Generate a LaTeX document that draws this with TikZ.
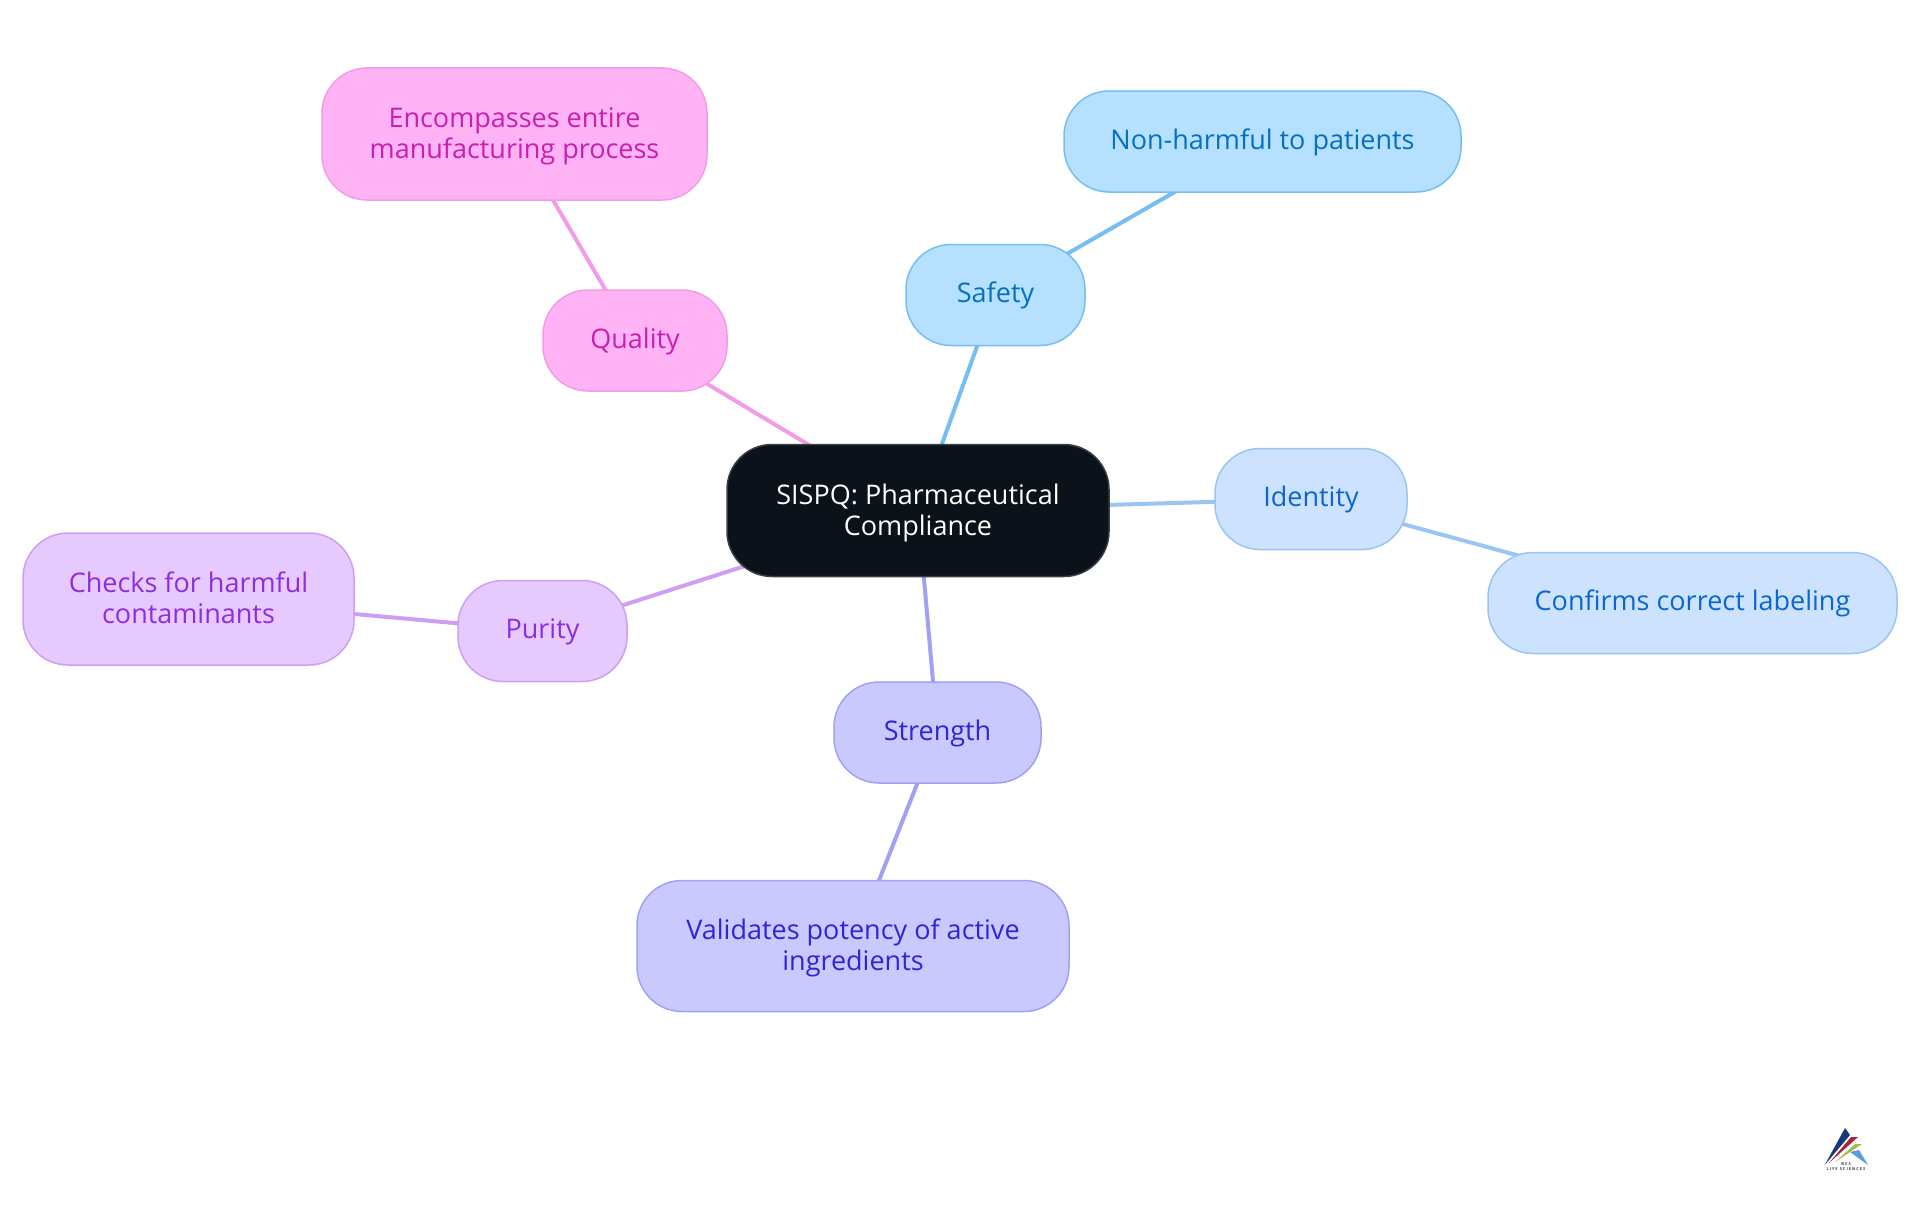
\documentclass[tikz,border=0pt]{standalone}
\usepackage{fontspec}
\setmainfont{Open Sans}
\usetikzlibrary{backgrounds}
\definecolor{rootfill}{HTML}{0B1219}
\definecolor{rootline}{HTML}{3A3F45}
\definecolor{skyfill}{HTML}{B5E0FF}
\definecolor{skyline}{HTML}{75BEF2}
\definecolor{skytext}{HTML}{0670C0}
\definecolor{idfill}{HTML}{CCE2FF}
\definecolor{idline}{HTML}{9AC4F2}
\definecolor{idtext}{HTML}{0B66CE}
\definecolor{strfill}{HTML}{C9C9FF}
\definecolor{strline}{HTML}{A1A1F4}
\definecolor{strtext}{HTML}{3025D6}
\definecolor{purfill}{HTML}{E6C9FF}
\definecolor{purline}{HTML}{CD9EF2}
\definecolor{purtext}{HTML}{8E2DE0}
\definecolor{qualfill}{HTML}{FFB3F5}
\definecolor{qualline}{HTML}{F19CE8}
\definecolor{qualtext}{HTML}{C81FB2}
\newcommand{\boxstrut}{\rule[-7pt]{0pt}{29.6pt}}
\newcommand{\firstline}[1]{\rule{0pt}{#1pt}}
\tikzset{
	box/.style={rectangle,rounded corners=45pt,inner sep=0pt,line width=1.5pt,align=center,
		font=\fontsize{27}{30.6}\selectfont,
		execute at begin node=\boxstrut,execute at end node=\boxstrut},
	rootbox/.style={box,fill=rootfill,draw=rootline,text=white},
	safetybox/.style={box,fill=skyfill,draw=skyline,text=skytext},
	identitybox/.style={box,fill=idfill,draw=idline,text=idtext},
	strengthbox/.style={box,fill=strfill,draw=strline,text=strtext},
	puritybox/.style={box,fill=purfill,draw=purline,text=purtext},
	qualitybox/.style={box,fill=qualfill,draw=qualline,text=qualtext},
	link/.style={line width=4pt}
}
\begin{document}
\begin{tikzpicture}[x=1pt,y=-1pt,line join=round]
	\useasboundingbox (0,0) rectangle (1920,1215);
	\node[rootbox,minimum width=382pt,minimum height=132pt] (root) at (918,510.5) {\firstline{26}SISPQ: Pharmaceutical\\Compliance};
	\node[safetybox,minimum width=179pt,minimum height=101pt] (safety) at (995.5,295) {Safety};
	\node[safetybox,minimum width=397pt,minimum height=101pt] (harmless) at (1262.5,141.5) {Non-harmful to patients};
	\node[identitybox,minimum width=192pt,minimum height=101pt] (identity) at (1311,499) {Identity};
	\node[identitybox,minimum width=409pt,minimum height=101pt] (labeling) at (1692.5,603) {Confirms correct labeling};
	\node[strengthbox,minimum width=207pt,minimum height=101pt] (strength) at (937.5,732.5) {Strength};
	\node[strengthbox,minimum width=432pt,minimum height=131pt] (potency) at (853,946) {\firstline{24.4}Validates potency of active\\ingredients};
	\node[puritybox,minimum width=169pt,minimum height=101pt] (purity) at (542.5,631) {Purity};
	\node[puritybox,minimum width=331pt,minimum height=132pt] (contaminants) at (188.5,599) {\firstline{24.4}Checks for harmful\\contaminants};
	\node[qualitybox,minimum width=184pt,minimum height=101pt] (quality) at (635,340.5) {Quality};
	\node[qualitybox,minimum width=385pt,minimum height=132pt] (process) at (514.5,134) {\firstline{24.4}Encompasses entire\\manufacturing process};
	% links run centre to centre behind the boxes
	\begin{scope}[on background layer]
		\draw[link,skyline] (root.center)--(safety.center);
		\draw[link,skyline] (safety.center)--(harmless.center);
		\draw[link,idline] (root.center)--(identity.center);
		\draw[link,idline] (identity.center)--(labeling.center);
		\draw[link,strline] (root.center)--(strength.center);
		\draw[link,strline] (strength.center)--(potency.center);
		\draw[link,purline] (root.center)--(purity.center);
		\draw[link,purline] (purity.center)--(contaminants.center);
		\draw[link,qualline] (root.center)--(quality.center);
		\draw[link,qualline] (quality.center)--(process.center);
	\end{scope}
	% logo
	\fill[color={rgb,255:red,20;green,60;blue,115}] (1824.7,1165)--(1845,1128)--(1850,1135)--cycle;
	\fill[color={rgb,255:red,165;green,35;blue,60}] (1829,1163)--(1851,1137)--(1858,1137)--cycle;
	\fill[color={rgb,255:red,165;green,185;blue,80}] (1835,1162)--(1855,1144)--(1862,1144)--cycle;
	\fill[color={rgb,255:red,90;green,155;blue,220}] (1850,1152)--(1859,1150)--(1868,1165)--cycle;
	\node[inner sep=0pt,align=center,text=rootline,font=\bfseries\addfontfeature{LetterSpace=25}\fontsize{4}{5}\selectfont] (logo) at (1846,1166.5) {BVS\\LIFE SCIENCES};
\end{tikzpicture}
\end{document}
